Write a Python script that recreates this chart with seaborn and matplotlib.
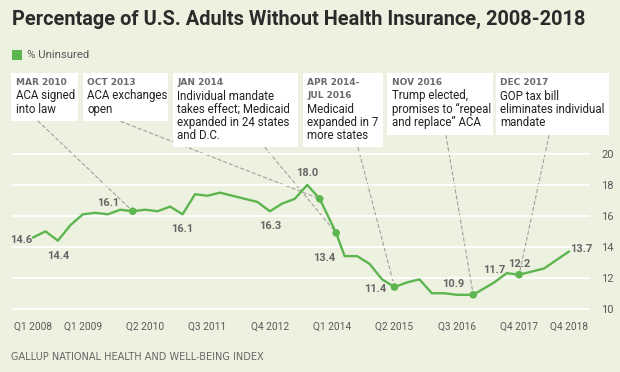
import matplotlib
matplotlib.use('Agg')
import matplotlib.pyplot as plt
import seaborn as sns
import pandas as pd
from matplotlib.patches import Rectangle, ConnectionPatch

# data (decimal year of each survey point, % uninsured)
years = [2008.0, 2008.25, 2008.5, 2008.75, 2009.0, 2009.25, 2009.5, 2009.75,
         2010.0, 2010.25, 2010.5, 2010.75, 2011.0, 2011.25, 2011.5, 2011.75,
         2012.0, 2012.25, 2012.5, 2012.75, 2013.0, 2013.25, 2013.5, 2013.75,
         2014.08, 2014.25, 2014.5, 2014.75, 2015.0, 2015.25, 2015.5, 2015.75,
         2016.0, 2016.25, 2016.5, 2016.83, 2017.25, 2017.5, 2017.75, 2018.25,
         2018.75]
uninsured = [14.6, 15.0, 14.4, 15.4, 16.1, 16.2, 16.1, 16.4,
             16.3, 16.4, 16.3, 16.6, 16.1, 17.4, 17.3, 17.5,
             17.3, 17.1, 16.9, 16.3, 16.8, 17.1, 18.0, 17.1,
             14.9, 13.4, 13.4, 12.9, 11.9, 11.4, 11.7, 11.9,
             11.0, 11.0, 10.9, 10.9, 11.7, 12.3, 12.2, 12.6,
             13.7]

tick_years = [2008.0, 2009.0, 2010.25, 2011.5, 2012.75, 2014.0, 2015.25, 2016.5, 2017.75, 2018.75]
tick_labels = ['Q1 2008', 'Q1 2009', 'Q2 2010', 'Q3 2011', 'Q4 2012',
               'Q1 2014', 'Q2 2015', 'Q3 2016', 'Q4 2017', 'Q4 2018']
y_ticks = [10, 12, 14, 16, 18, 20]

# events marked on the line
event_years = [2010.0, 2013.75, 2014.08, 2015.25, 2016.83, 2017.75]
event_dates = [['MAR 2010'], ['OCT 2013'], ['JAN 2014'], ['APR 2014-', 'JUL 2016'],
               ['NOV 2016'], ['DEC 2017']]
event_texts = [['ACA signed', 'into law'],
               ['ACA exchanges', 'open'],
               ['Individual mandate', 'takes effect; Medicaid', 'expanded in 24 states', 'and D.C.'],
               ['Medicaid', 'expanded in 7', 'more states'],
               ['Trump elected,', 'promises to \u201crepeal', 'and replace\u201d ACA'],
               ['GOP tax bill', 'eliminates individual', 'mandate']]

# points that get a value label
label_years = [2008.0, 2008.5, 2009.5, 2011.0, 2012.75, 2013.5, 2014.25,
               2015.25, 2016.83, 2017.25, 2017.75, 2018.75]

df = pd.DataFrame({'year': years, 'uninsured': uninsured})
lookup = df.set_index('year')['uninsured']
ev = pd.DataFrame({'year': event_years, 'uninsured': lookup.loc[event_years].values})

# layout (pixels)
box_pos = [(11, 78, 120.7), (82.7, 167.7, 120.7), (172.7, 297.7, 147.3),
           (302.7, 383.3, 147.3), (387.3, 492.7, 135), (496, 609.3, 135)]
line_start = [(38, 121), (121, 121.5), (265, 147.5), (358, 147.5), (446, 135.5), (549, 135.5)]
label_off = [('right', -1, -2), ('center', 0, -15), ('center', 0, 11.5), ('center', 0, -15),
             ('center', 0, -15), ('center', 0, 11.5), ('right', -9, -2), ('right', -8, -2),
             ('right', -9, 10.5), ('center', 0, 12.5), ('center', 0, 10.5), ('left', 1, 2)]

BG = '#edf2e0'
GREEN = '#5cb54f'
GREY = '#5a5a5a'

sns.set_style('white')
plt.rcParams['font.family'] = ['Roboto', 'DejaVu Sans']

fig = plt.figure(figsize=(6.2, 3.72), dpi=100, facecolor=BG)

ov = fig.add_axes([0, 0, 1, 1], zorder=0)
ov.set_xlim(0, 620)
ov.set_ylim(372, 0)
ov.axis('off')

px_per_year = 49.86
x_left = 2008 + (12 - 33) / px_per_year
x_right = 2008 + (590 - 33) / px_per_year
ax = fig.add_axes([12 / 620, (372 - 309.5) / 372, 578 / 620, 156.3 / 372], zorder=1)
ax.set_facecolor('none')

sns.lineplot(data=df, x='year', y='uninsured', color=GREEN, lw=1.7, ax=ax)
sns.scatterplot(data=ev, x='year', y='uninsured', color=GREEN, s=30,
                edgecolor='none', ax=ax, zorder=3)

ax.set_xlim(x_left, x_right)
ax.set_ylim(9.95, 20.05)
ax.set_yticks(y_ticks)
ax.set_xticks(tick_years)
ax.set_xticklabels(tick_labels)
ax.yaxis.tick_right()
ax.grid(axis='y', color='white', lw=1.3)
ax.grid(axis='x', visible=False)
ax.set_xlabel('')
ax.set_ylabel('')
sns.despine(ax=ax, left=True, bottom=True)
ax.tick_params(axis='y', length=0, pad=8, labelsize=8, labelcolor=GREY)
ax.tick_params(axis='x', length=5.5, width=1.3, color='white', pad=3.5,
               labelsize=7.3, labelcolor=GREY)

# value labels
for yr, (ha, dx, dy) in zip(label_years, label_off):
    v = lookup.loc[yr]
    ax.annotate(f'{v:.1f}', xy=(yr, v), xytext=(dx, dy), textcoords='offset pixels',
                ha=ha, va='center', fontsize=8, fontweight='bold', color='#666666')

# annotation boxes
top = 72.7
for (l, r, b), dates, texts, start, yr in zip(box_pos, event_dates, event_texts,
                                               line_start, event_years):
    ov.add_patch(Rectangle((l, top), r - l, b - top, fc='white', ec='none'))
    y = top + 10
    for t in dates:
        ov.text(l + 4.5, y, t, fontsize=6.5, fontweight='bold', color='#6a6a6a',
                va='center', family='DejaVu Sans')
        y += 13.3
    for t in texts:
        ov.text(l + 4.5, y, t, fontsize=8.3, color='#222222', va='center')
        y += 13.3
    con = ConnectionPatch(xyA=start, coordsA=ov.transData,
                          xyB=(yr, lookup.loc[yr]), coordsB=ax.transData,
                          color='#a0a0a0', lw=0.8, ls=(0, (3, 2.5)))
    ov.add_artist(con)

# title, legend, source
ov.text(12, 25, 'Percentage of U.S. Adults Without Health Insurance, 2008-2018',
        fontsize=14.4, fontweight='bold', color='#2b2b2b', va='baseline')
ov.add_patch(Rectangle((12, 49.5), 10, 10.5, fc=GREEN, ec='none'))
ov.text(27, 55, '% Uninsured', fontsize=8.2, color=GREY, va='center')
ov.text(11, 357, 'GALLUP NATIONAL HEALTH AND WELL-BEING INDEX', fontsize=7,
        color='#666666', va='center', family='DejaVu Sans')

fig.savefig('out.png', dpi=100, facecolor=BG)
